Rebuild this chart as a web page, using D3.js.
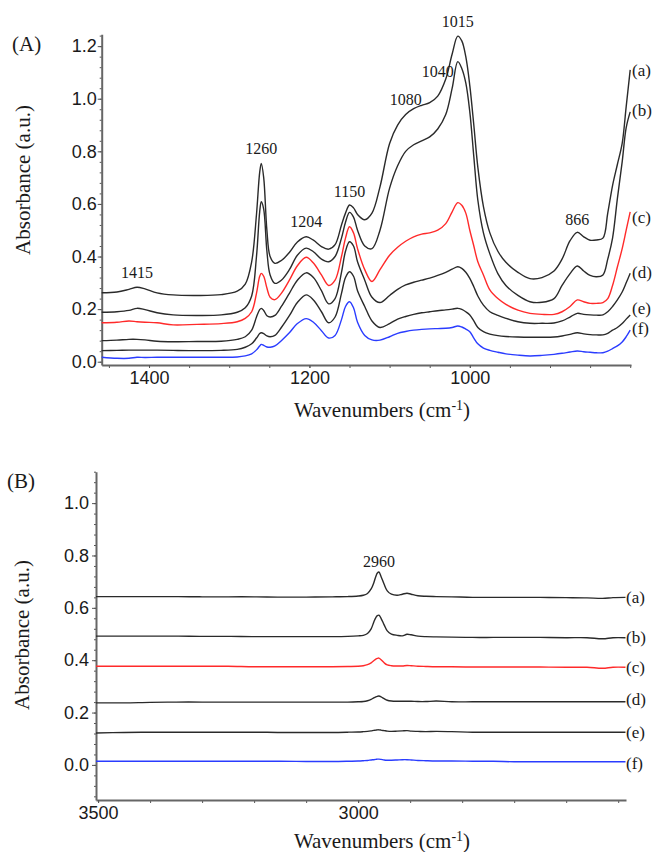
<!DOCTYPE html>
<html>
<head>
<meta charset="utf-8">
<script src="https://cdn.jsdelivr.net/npm/d3@7/dist/d3.min.js"></script>
<style>
  html, body { margin: 0; padding: 0; background: #fff; }
  svg { display: block; }
  .serif { font-family: "Liberation Serif", "Times New Roman", serif; fill: #1a1a1a; }
  .tick text { font-family: "Liberation Sans", Arial, sans-serif; font-size: 18px; fill: #1a1a1a; }
</style>
</head>
<body>
<svg id="chart" width="656" height="852"></svg>
<script>
// ---------- Panel A: 1459–799 cm-1 region ----------
const wavenumbersA = [1459,1440,1425,1415,1405,1390,1370,1340,1310,1290,1280,1272,1266,1262,1260,1257,1253,1249,1243,1235,1225,1215,1204,1195,1185,1176,1168,1160,1155,1150,1145,1140,1131,1122,1112,1100,1090,1080,1070,1060,1050,1040,1030,1022,1015,1010,1005,1000,995,990,983,975,965,955,940,925,910,895,885,875,866,858,850,842,834,828,822,816,810,805,800];

const specA_a = [0.262,0.265,0.275,0.283,0.277,0.262,0.254,0.252,0.255,0.268,0.295,0.38,0.56,0.72,0.754,0.70,0.50,0.40,0.374,0.385,0.415,0.455,0.475,0.462,0.438,0.428,0.445,0.52,0.565,0.596,0.585,0.56,0.54,0.565,0.665,0.83,0.90,0.94,0.962,0.975,0.985,1.01,1.075,1.17,1.238,1.22,1.16,1.05,0.90,0.74,0.59,0.49,0.42,0.378,0.34,0.316,0.32,0.345,0.39,0.46,0.492,0.475,0.462,0.463,0.47,0.565,0.67,0.75,0.83,0.97,1.11];
const specA_b = [0.188,0.19,0.195,0.203,0.198,0.186,0.178,0.176,0.178,0.188,0.205,0.25,0.40,0.57,0.608,0.58,0.42,0.33,0.298,0.31,0.35,0.405,0.432,0.418,0.39,0.38,0.40,0.47,0.53,0.568,0.55,0.50,0.44,0.43,0.50,0.66,0.745,0.80,0.825,0.84,0.855,0.885,0.94,1.04,1.141,1.115,1.06,0.95,0.78,0.615,0.49,0.41,0.335,0.29,0.252,0.228,0.226,0.24,0.29,0.335,0.364,0.345,0.328,0.323,0.33,0.39,0.47,0.62,0.76,0.89,0.95];
const specA_c = [0.148,0.15,0.155,0.152,0.150,0.148,0.14,0.142,0.145,0.152,0.165,0.19,0.26,0.325,0.336,0.325,0.28,0.245,0.236,0.26,0.31,0.365,0.397,0.375,0.33,0.29,0.31,0.40,0.47,0.513,0.49,0.43,0.35,0.305,0.35,0.405,0.435,0.458,0.475,0.485,0.49,0.50,0.525,0.57,0.605,0.595,0.565,0.50,0.44,0.38,0.33,0.273,0.24,0.218,0.196,0.184,0.18,0.18,0.19,0.21,0.235,0.228,0.222,0.222,0.225,0.24,0.29,0.36,0.43,0.50,0.57];
const specA_d = [0.08,0.082,0.085,0.085,0.083,0.078,0.076,0.077,0.078,0.085,0.095,0.12,0.17,0.198,0.203,0.195,0.175,0.17,0.176,0.21,0.26,0.31,0.338,0.32,0.27,0.22,0.24,0.34,0.42,0.456,0.44,0.38,0.31,0.245,0.225,0.252,0.275,0.292,0.302,0.31,0.318,0.328,0.34,0.352,0.361,0.355,0.34,0.317,0.285,0.25,0.215,0.19,0.176,0.165,0.152,0.146,0.146,0.147,0.155,0.17,0.184,0.18,0.178,0.177,0.178,0.19,0.21,0.235,0.265,0.30,0.336];
const specA_e = [0.042,0.043,0.044,0.044,0.044,0.044,0.043,0.042,0.043,0.047,0.055,0.068,0.09,0.107,0.11,0.107,0.098,0.095,0.10,0.13,0.175,0.225,0.254,0.235,0.19,0.148,0.17,0.26,0.32,0.342,0.325,0.27,0.21,0.155,0.13,0.145,0.162,0.172,0.18,0.186,0.19,0.194,0.197,0.2,0.203,0.199,0.19,0.178,0.155,0.13,0.114,0.105,0.099,0.096,0.094,0.093,0.093,0.094,0.098,0.104,0.11,0.106,0.103,0.102,0.102,0.108,0.12,0.13,0.145,0.162,0.178];
const specA_f = [0.017,0.013,0.013,0.017,0.016,0.017,0.017,0.017,0.017,0.018,0.022,0.03,0.045,0.06,0.066,0.062,0.056,0.055,0.06,0.08,0.11,0.145,0.164,0.15,0.118,0.09,0.1,0.16,0.21,0.228,0.205,0.15,0.10,0.083,0.082,0.095,0.108,0.115,0.12,0.123,0.125,0.126,0.127,0.13,0.136,0.132,0.124,0.114,0.09,0.068,0.052,0.043,0.036,0.03,0.025,0.022,0.024,0.028,0.032,0.037,0.041,0.038,0.036,0.034,0.034,0.04,0.05,0.06,0.075,0.095,0.12];

const peaksA = [
  { label: "1415", w: 1415, v: 0.283 },
  { label: "1260", w: 1260, v: 0.754 },
  { label: "1204", w: 1204, v: 0.475 },
  { label: "1150", w: 1150, v: 0.596 },
  { label: "1080", w: 1080, v: 0.94 },
  { label: "1040", w: 1040, v: 1.01 },
  { label: "1015", w: 1015, v: 1.238 },
  { label: "866",  w: 866,  v: 0.492 }
];

// ---------- Panel B: 3504–2485 cm-1 region ----------
const wavenumbersB = [3504,3450,3400,3350,3300,3250,3200,3150,3100,3050,3020,3000,2990,2982,2975,2970,2966,2963,2960,2956,2950,2944,2936,2925,2915,2906,2898,2885,2870,2850,2820,2780,2740,2700,2650,2600,2560,2530,2510,2486];

const specB_a = [0.643,0.643,0.643,0.643,0.642,0.642,0.642,0.641,0.641,0.642,0.643,0.645,0.648,0.655,0.672,0.695,0.72,0.733,0.737,0.72,0.69,0.665,0.652,0.648,0.652,0.656,0.652,0.646,0.644,0.643,0.642,0.640,0.640,0.640,0.640,0.639,0.638,0.636,0.639,0.640];
const specB_b = [0.492,0.492,0.492,0.492,0.491,0.491,0.490,0.490,0.490,0.490,0.491,0.493,0.495,0.502,0.52,0.545,0.563,0.570,0.572,0.56,0.535,0.512,0.50,0.495,0.493,0.499,0.497,0.492,0.490,0.489,0.488,0.487,0.487,0.487,0.487,0.486,0.486,0.482,0.486,0.486];
const specB_c = [0.377,0.377,0.377,0.377,0.377,0.377,0.375,0.375,0.375,0.375,0.376,0.377,0.379,0.383,0.39,0.398,0.404,0.407,0.408,0.402,0.39,0.382,0.379,0.378,0.378,0.380,0.379,0.377,0.376,0.375,0.375,0.374,0.374,0.374,0.374,0.373,0.373,0.369,0.373,0.373];
const specB_d = [0.237,0.237,0.239,0.240,0.240,0.240,0.240,0.240,0.240,0.240,0.240,0.241,0.242,0.245,0.250,0.256,0.260,0.262,0.263,0.260,0.253,0.247,0.244,0.243,0.243,0.243,0.243,0.242,0.242,0.244,0.241,0.241,0.241,0.241,0.241,0.241,0.241,0.241,0.241,0.241];
const specB_e = [0.122,0.124,0.125,0.125,0.125,0.125,0.125,0.124,0.124,0.124,0.125,0.126,0.127,0.128,0.130,0.132,0.133,0.134,0.134,0.133,0.131,0.129,0.128,0.129,0.130,0.131,0.129,0.128,0.127,0.128,0.127,0.125,0.125,0.125,0.125,0.125,0.125,0.125,0.125,0.125];
const specB_f = [0.014,0.014,0.014,0.014,0.014,0.014,0.014,0.014,0.013,0.013,0.014,0.015,0.016,0.017,0.019,0.020,0.021,0.022,0.022,0.021,0.019,0.018,0.018,0.019,0.020,0.020,0.019,0.017,0.016,0.015,0.015,0.014,0.014,0.012,0.012,0.012,0.012,0.012,0.012,0.012];

const peaksB = [{ label: "2960", w: 2960, v: 0.737 }];

const seriesNames = ["(a)", "(b)", "(c)", "(d)", "(e)", "(f)"];
const seriesColors = ["#2a2a2a", "#2a2a2a", "#ff2a2a", "#2a2a2a", "#2a2a2a", "#2a3cff"];

const yTicks = [0, 0.2, 0.4, 0.6, 0.8, 1.0, 1.2];

// ---------- drawing ----------
const svg = d3.select("#chart");

function drawPanel(cfg) {
  const g = svg.append("g");
  const x = d3.scaleLinear().domain(cfg.xDomain).range(cfg.xRange);
  const y = d3.scaleLinear().domain(cfg.yDomain).range(cfg.yRange);
  const axisY = cfg.yRange[0];

  // minor y ticks
  const minorY = d3.range(-0.2, 1.3, 0.04).map(v => +v.toFixed(2))
    .filter(v => v >= cfg.yDomain[0] && v <= cfg.yDomain[1]);
  g.append("g").attr("transform", `translate(${cfg.xRange[0]},0)`)
    .call(d3.axisLeft(y).tickValues(minorY).tickSize(2).tickSizeOuter(0).tickFormat(""))
    .call(s => s.select(".domain").remove())
    .selectAll("line").attr("stroke", "#555");

  // major y axis
  const yAx = g.append("g").attr("transform", `translate(${cfg.xRange[0]},0)`)
    .call(d3.axisLeft(y).tickValues(yTicks.filter(v => v <= cfg.yDomain[1]))
      .tickSize(4).tickSizeOuter(0).tickFormat(d3.format(".1f")));
  yAx.select(".domain").attr("stroke", "#666").attr("stroke-width", 2);
  yAx.selectAll(".tick line").attr("stroke", "#555");
  yAx.selectAll(".tick text").attr("x", -cfg.yLabelGap);

  // minor x ticks
  g.append("g").attr("transform", `translate(0,${axisY})`)
    .call(d3.axisBottom(x).tickValues(cfg.xMinor).tickSize(3).tickSizeOuter(0).tickFormat(""))
    .call(s => s.select(".domain").remove())
    .selectAll("line").attr("stroke", "#555");

  // major x axis
  const xAx = g.append("g").attr("transform", `translate(0,${axisY})`)
    .call(d3.axisBottom(x).tickValues(cfg.xMajor).tickSize(3).tickSizeOuter(0).tickFormat(d3.format("d")));
  xAx.select(".domain").attr("stroke", "#666").attr("stroke-width", 2);
  xAx.selectAll(".tick line").attr("stroke", "#555");
  xAx.selectAll(".tick text").attr("y", cfg.xLabelGap);

  // spectra
  const line = d3.line()
    .x((d, i) => x(cfg.waves[i]))
    .y(d => y(d))
    .curve(d3.curveCatmullRom.alpha(0.5));
  cfg.series.forEach((vals, k) => {
    g.append("path")
      .datum(vals)
      .attr("d", line)
      .attr("fill", "none")
      .attr("stroke", seriesColors[k])
      .attr("stroke-width", 1.4)
      .attr("stroke-linejoin", "round");
    g.append("text").attr("class", "serif")
      .attr("x", cfg.sideLabelX)
      .attr("y", cfg.sideLabelY[k])
      .attr("dominant-baseline", "central")
      .attr("font-size", 17)
      .text(seriesNames[k]);
  });

  // peak annotations
  cfg.peaks.forEach(p => {
    g.append("text").attr("class", "serif")
      .attr("x", x(p.w) + (p.dx || 0))
      .attr("y", cfg.peakLabelY[p.label])
      .attr("text-anchor", "middle")
      .attr("dominant-baseline", "central")
      .attr("font-size", 16)
      .text(p.label);
  });

  // panel tag
  g.append("text").attr("class", "serif")
    .attr("x", cfg.tag.x).attr("y", cfg.tag.y)
    .attr("dominant-baseline", "central")
    .attr("font-size", 21)
    .text(cfg.tag.text);

  // axis titles
  g.append("text").attr("class", "serif")
    .attr("transform", `translate(${cfg.yTitle.x},${cfg.yTitle.y}) rotate(-90)`)
    .attr("text-anchor", "middle")
    .attr("dominant-baseline", "central")
    .attr("font-size", 21)
    .text("Absorbance (a.u.)");

  const xt = g.append("text").attr("class", "serif")
    .attr("x", cfg.xTitle.x).attr("y", cfg.xTitle.y)
    .attr("text-anchor", "middle")
    .attr("font-size", 21);
  xt.append("tspan").text("Wavenumbers (cm");
  xt.append("tspan").attr("font-size", 14).attr("dy", -7).text("-1");
  xt.append("tspan").attr("dy", 7).text(")");
}

drawPanel({
  waves: wavenumbersA,
  series: [specA_a, specA_b, specA_c, specA_d, specA_e, specA_f],
  xDomain: [1459, 799], xRange: [101.7, 631],
  yDomain: [-0.0125, 1.245], yRange: [365, 34.3],
  xMajor: [1400, 1200, 1000],
  xMinor: d3.range(800, 1451, 50),
  yLabelGap: 5, xLabelGap: 6,
  sideLabelX: 632, sideLabelY: [70, 110, 217, 272, 308, 328],
  peaks: peaksA,
  peakLabelY: { "1415": 272, "1260": 148, "1204": 221, "1150": 191, "1080": 99, "1040": 71, "1015": 21, "866": 219 },
  tag: { text: "(A)", x: 12, y: 44 },
  yTitle: { x: 23, y: 180 },
  xTitle: { x: 382, y: 417 }
});

drawPanel({
  waves: wavenumbersB,
  series: [specB_a, specB_b, specB_c, specB_d, specB_e, specB_f],
  xDomain: [3504, 2485], xRange: [96, 626],
  yDomain: [-0.134, 1.12], yRange: [800, 471.7],
  xMajor: [3500, 3000],
  xMinor: d3.range(2500, 3501, 100),
  yLabelGap: 7, xLabelGap: 6.5,
  sideLabelX: 626, sideLabelY: [597, 637, 667, 699, 732, 763],
  peaks: peaksB,
  peakLabelY: { "2960": 561 },
  tag: { text: "(B)", x: 7, y: 481 },
  yTitle: { x: 22, y: 635 },
  xTitle: { x: 382, y: 848 }
});
</script>
</body>
</html>
